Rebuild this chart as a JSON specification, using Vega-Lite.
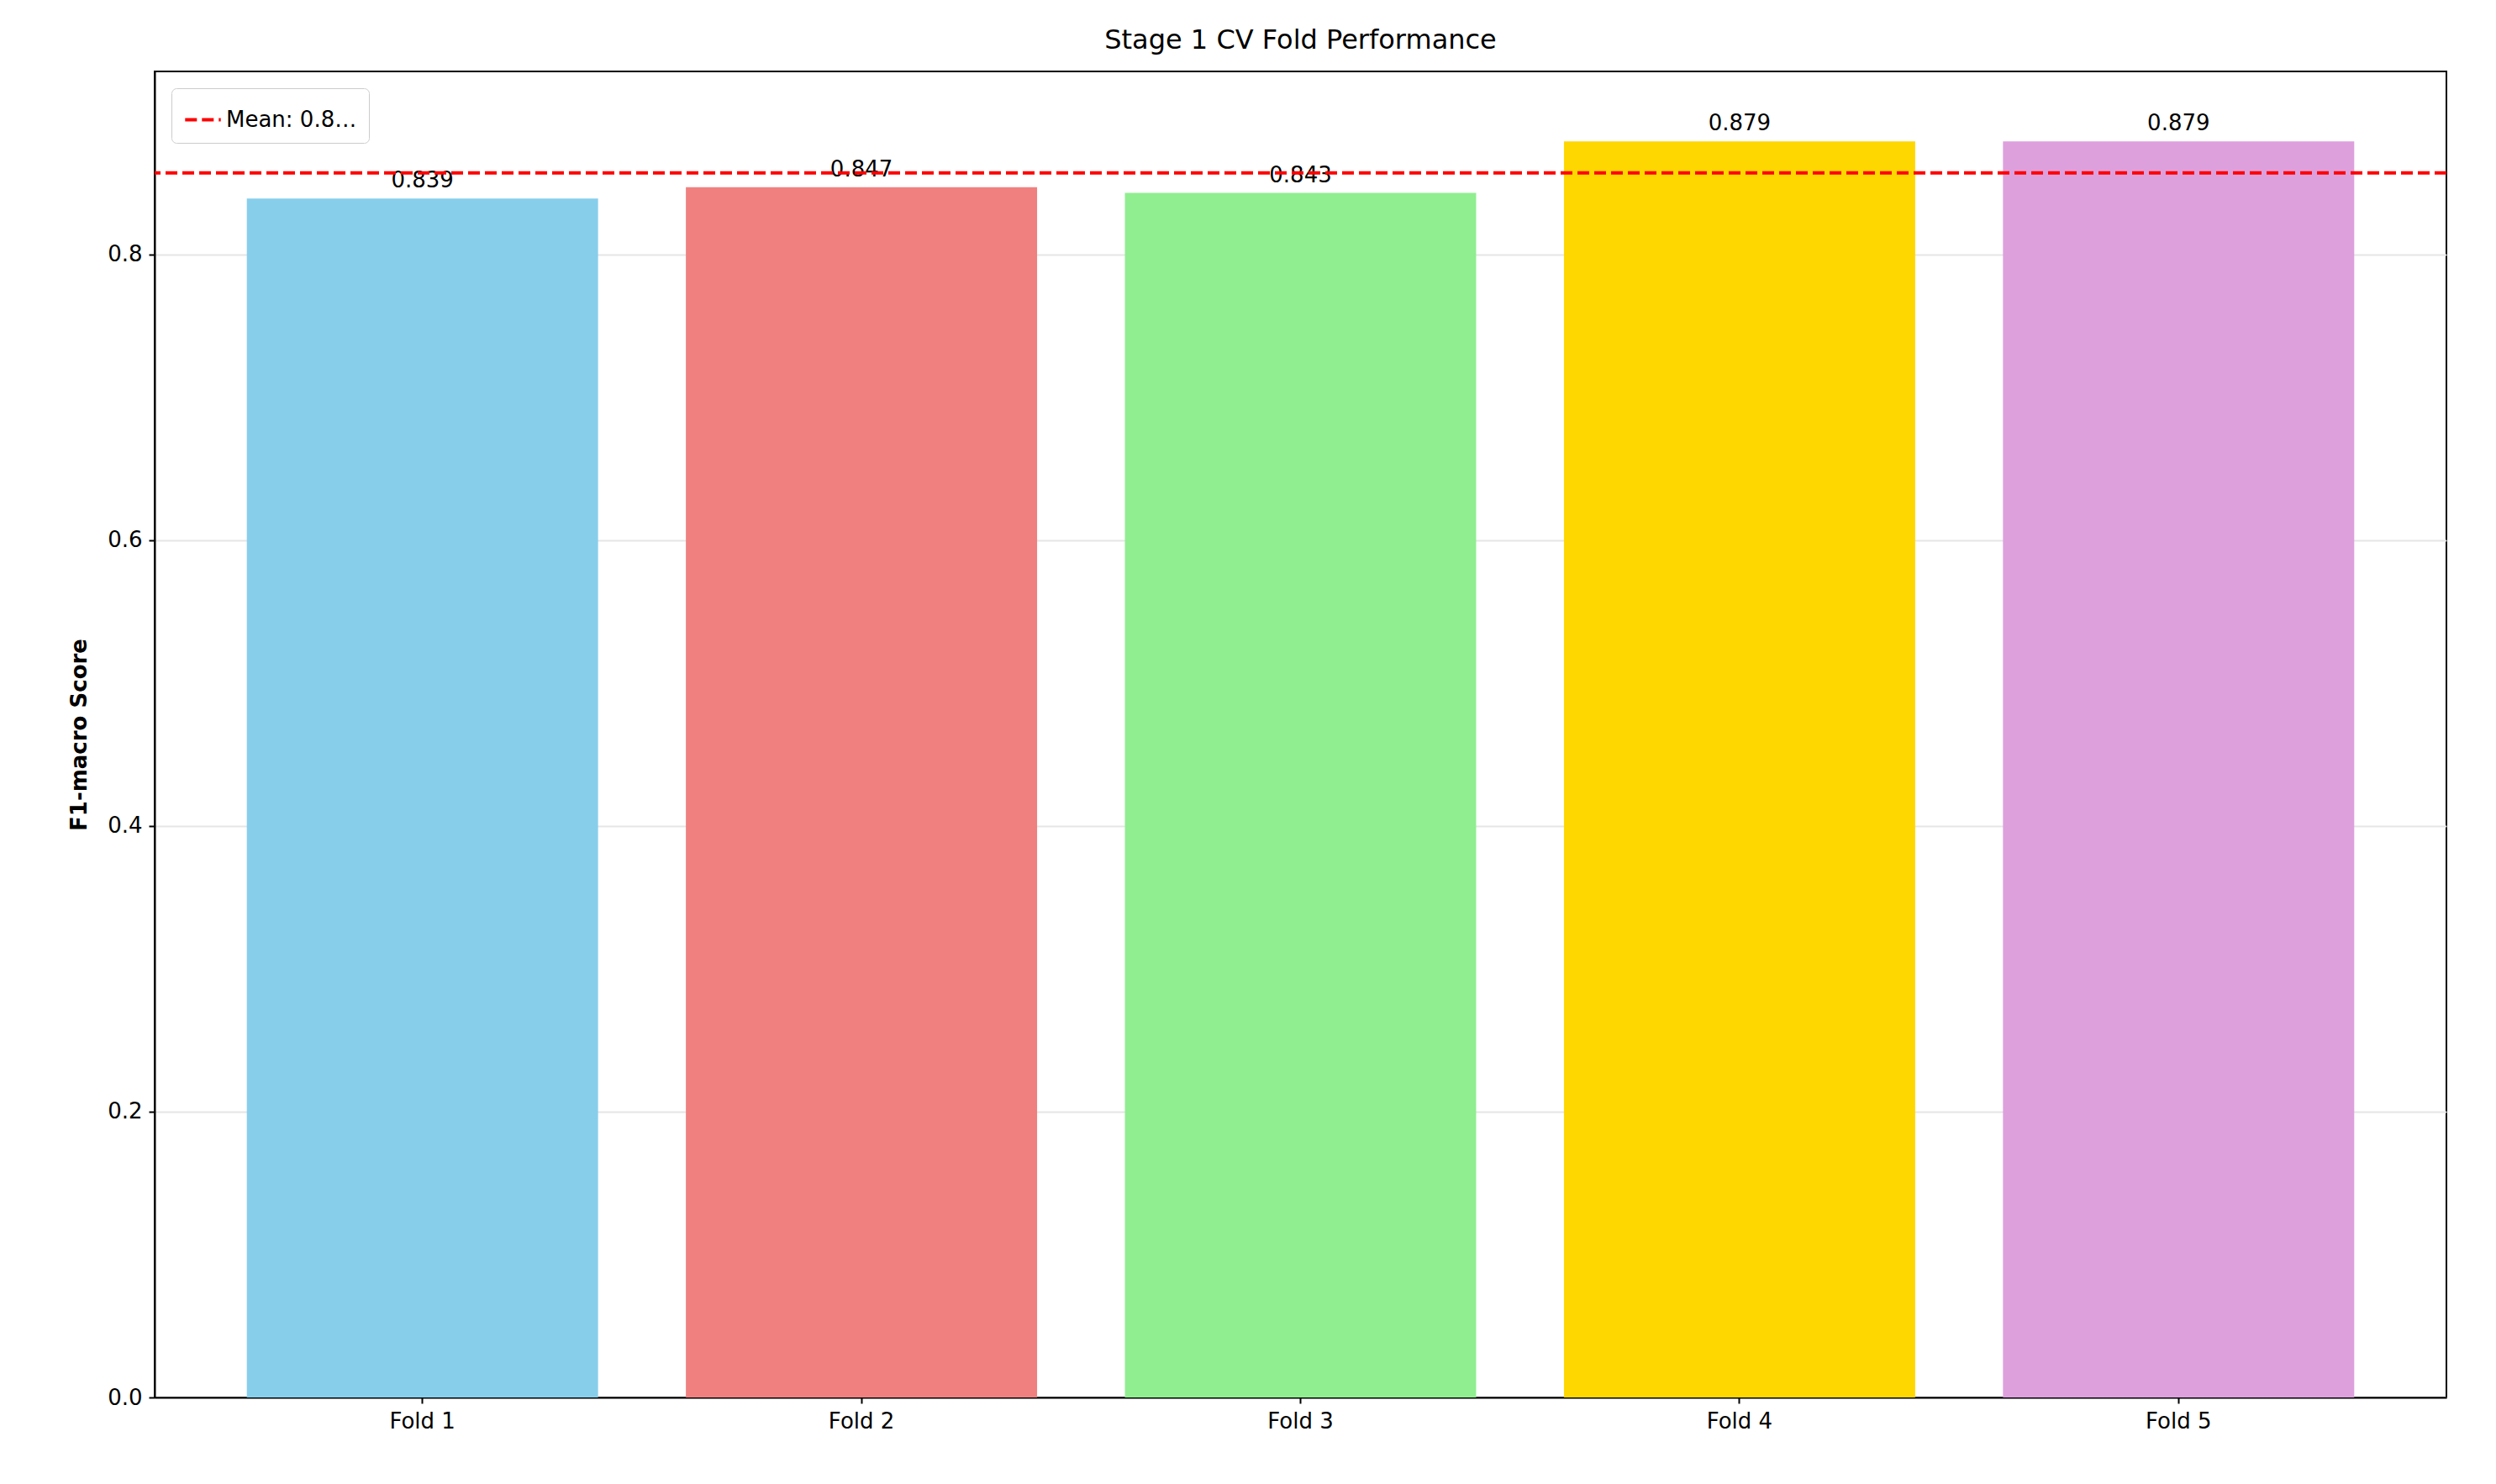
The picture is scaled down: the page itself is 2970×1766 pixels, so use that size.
{
  "$schema": "https://vega.github.io/schema/vega-lite/v6.json",
  "autosize": "none",
  "width": 2727,
  "height": 1578,
  "padding": {"left": 184, "top": 85, "right": 59, "bottom": 103},
  "background": "white",
  "config": {
    "font": "DejaVu Sans",
    "view": {"stroke": "black", "strokeWidth": 2},
    "axis": {"labelFontSize": 26, "titleFontSize": 26, "labelColor": "black", "titleColor": "black", "tickColor": "black", "domainColor": "black", "tickSize": 7, "tickWidth": 2, "domainWidth": 2, "labelPadding": 8}
  },
  "title": {"text": "Stage 1 CV Fold Performance", "fontSize": 32, "fontWeight": "normal", "offset": 20},
  "layer": [
    {
      "data": {"values": [
        {"fold": "Fold 1", "f1": 0.839},
        {"fold": "Fold 2", "f1": 0.847},
        {"fold": "Fold 3", "f1": 0.843},
        {"fold": "Fold 4", "f1": 0.879},
        {"fold": "Fold 5", "f1": 0.879}
      ]},
      "encoding": {
        "x": {"field": "fold", "type": "nominal", "sort": null, "title": null,
          "scale": {"paddingInner": 0.2, "paddingOuter": 0.21},
          "axis": {"labelAngle": 0, "grid": false}},
        "y": {"field": "f1", "type": "quantitative", "title": "F1-macro Score",
          "scale": {"domain": [0, 0.928], "nice": false},
          "axis": {"values": [0, 0.2, 0.4, 0.6, 0.8], "format": ".1f", "gridColor": "#e6e6e6", "gridWidth": 2, "titlePadding": 20}}
      },
      "layer": [
        {
          "mark": {"type": "bar"},
          "encoding": {
            "fill": {"field": "fold", "type": "nominal", "legend": null,
              "scale": {"domain": ["Fold 1", "Fold 2", "Fold 3", "Fold 4", "Fold 5"],
                "range": ["#87CEEB", "#F08080", "#90EE90", "#FFD700", "#DDA0DD"]}}
          }
        },
        {
          "mark": {"type": "text", "baseline": "bottom", "dy": -8, "fontSize": 26, "color": "black"},
          "encoding": {"text": {"field": "f1", "type": "quantitative", "format": ".3f"}}
        }
      ]
    },
    {
      "data": {"values": [{"label": "Mean: 0.857 ± 0.018", "mean": 0.857}]},
      "mark": {"type": "rule", "strokeWidth": 4, "strokeDash": [14, 6]},
      "encoding": {
        "y": {"field": "mean", "type": "quantitative"},
        "color": {"field": "label", "type": "nominal", "scale": {"range": ["#ff0000"]},
          "legend": {"title": null, "orient": "top-left", "symbolType": "stroke", "symbolDash": [14, 6], "symbolStrokeWidth": 4, "symbolSize": 1800, "labelFontSize": 26, "strokeColor": "#cccccc", "fillColor": "white", "padding": 14, "cornerRadius": 6, "offset": 20}}
      }
    }
  ]
}
